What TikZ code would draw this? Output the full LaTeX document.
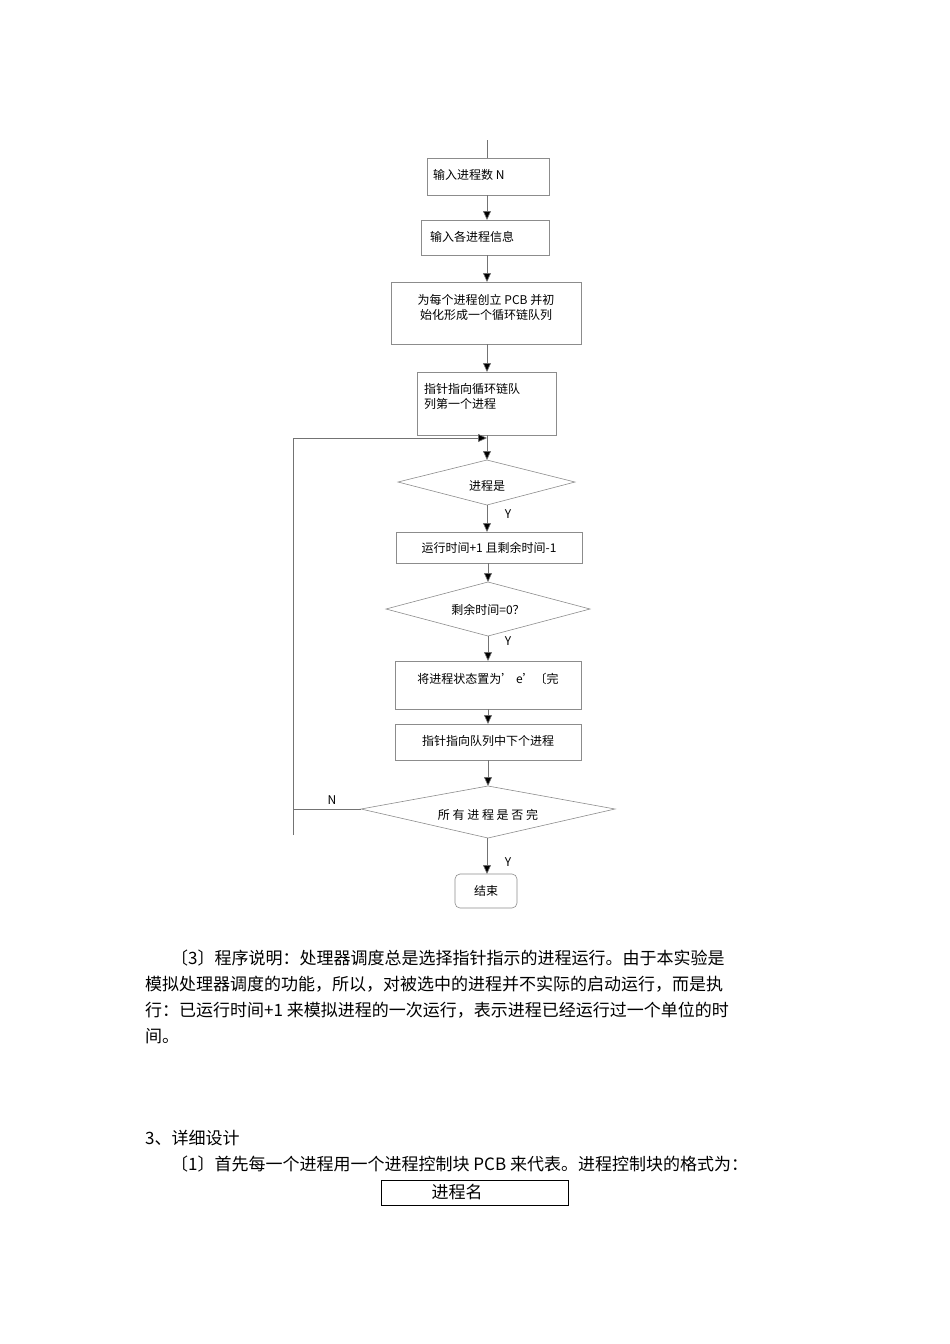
\documentclass[tikz,border=0pt]{standalone}
\usepackage{fontspec}
\setmainfont{Liberation Serif}
\newfontfamily\cjk{Noto Sans CJK SC}
\usetikzlibrary{shapes.geometric,arrows.meta}
\begin{document}
\begin{tikzpicture}[x=1pt,y=-1pt,
  box/.style={draw=black!45,line width=0.6pt},
  ln/.style={draw=black!55,line width=0.6pt},
  arr/.style={ln,-{Triangle[length=9pt,width=8pt,fill=black]}},
  ft/.style={font=\cjk\fontsize{12}{15}\selectfont,inner sep=0pt},
  bt/.style={font=\cjk\fontsize{17}{22}\selectfont,inner sep=0pt,anchor=west}]
\useasboundingbox (0,0) rectangle (950,1344);
% boxes
\draw[box] (427,158) rectangle (549,195); \node[ft,anchor=west] (b1) at (433,175) {输入进程数 N};
\draw[box] (421,220) rectangle (549,255); \node[ft,anchor=west] (b2) at (430,237) {输入各进程信息};
\draw[box] (391,282) rectangle (581,344); \node[ft,align=center] (b3) at (486,307) {为每个进程创立 PCB 并初\\始化形成一个循环链队列};
\draw[box] (417,372) rectangle (556,435); \node[ft,align=left,anchor=north west] (b4) at (424,383) {指针指向循环链队\\列第一个进程};
\draw[box] (398,482) -- (487,460) -- (575,482) -- (487,505) -- cycle; \node[ft] (d1) at (487,486) {进程是};
\draw[box] (396,532) rectangle (582,563); \node[ft] (b5) at (489,548) {运行时间+1 且剩余时间-1};
\draw[box] (386,609) -- (488,582) -- (590,609) -- (488,636) -- cycle; \node[ft] (d2) at (488,610) {剩余时间=0？};
\draw[box] (395,661) rectangle (581,709); \node[ft] (b6) at (488,679) {将进程状态置为’ e’〔完};
\draw[box] (395,724) rectangle (581,760); \node[ft] (b7) at (488,741) {指针指向队列中下个进程};
\draw[box] (361,809) -- (488,786) -- (615,809) -- (488,838) -- cycle; \node[ft] (d3) at (488,815) {所 有 进 程 是 否 完};
\draw[box,rounded corners=5pt] (455,874) rectangle (517,908); \node[ft] (e) at (486,891) {结束};
% connectors
\draw[ln] (487,140) -- (487,158);
\draw[arr] (487,195) -- (487,220);
\draw[arr] (487,255) -- (487,282);
\draw[arr] (487,344) -- (487,372);
\draw[arr] (487,435) -- (487,460);
\draw[arr] (293,835) -- (293,438) -- (487,438);
\draw[arr] (487,505) -- (487,532);
\draw[arr] (488,563) -- (488,582);
\draw[arr] (488,636) -- (488,661);
\draw[arr] (488,709) -- (488,724);
\draw[arr] (488,760) -- (488,786);
\draw[ln] (361,809) -- (293,809);
\draw[arr] (487,838) -- (487,874);
\node[ft] (y1) at (508,514) {Y};
\node[ft] (y2) at (508,641) {Y};
\node[ft] (y3) at (508,862) {Y};
\node[ft] (n1) at (332,800) {N};
% body text
\node[bt] (p1) at (171,958) {〔3〕程序说明：处理器调度总是选择指针指示的进程运行。由于本实验是};
\node[bt] (p2) at (145,984) {模拟处理器调度的功能，所以，对被选中的进程并不实际的启动运行，而是执};
\node[bt] (p3) at (145,1010) {行：已运行时间+1 来模拟进程的一次运行，表示进程已经运行过一个单位的时};
\node[bt] (p4) at (145,1036) {间。};
\node[bt] (p5) at (145,1138) {3、详细设计};
\node[bt] (p6) at (171,1164) {〔1〕首先每一个进程用一个进程控制块 PCB 来代表。进程控制块的格式为：};
\draw[line width=0.8pt] (381,1180) rectangle (568,1205);
\node[bt,anchor=center] (pn) at (457,1192) {进程名};
\end{tikzpicture}
\end{document}
